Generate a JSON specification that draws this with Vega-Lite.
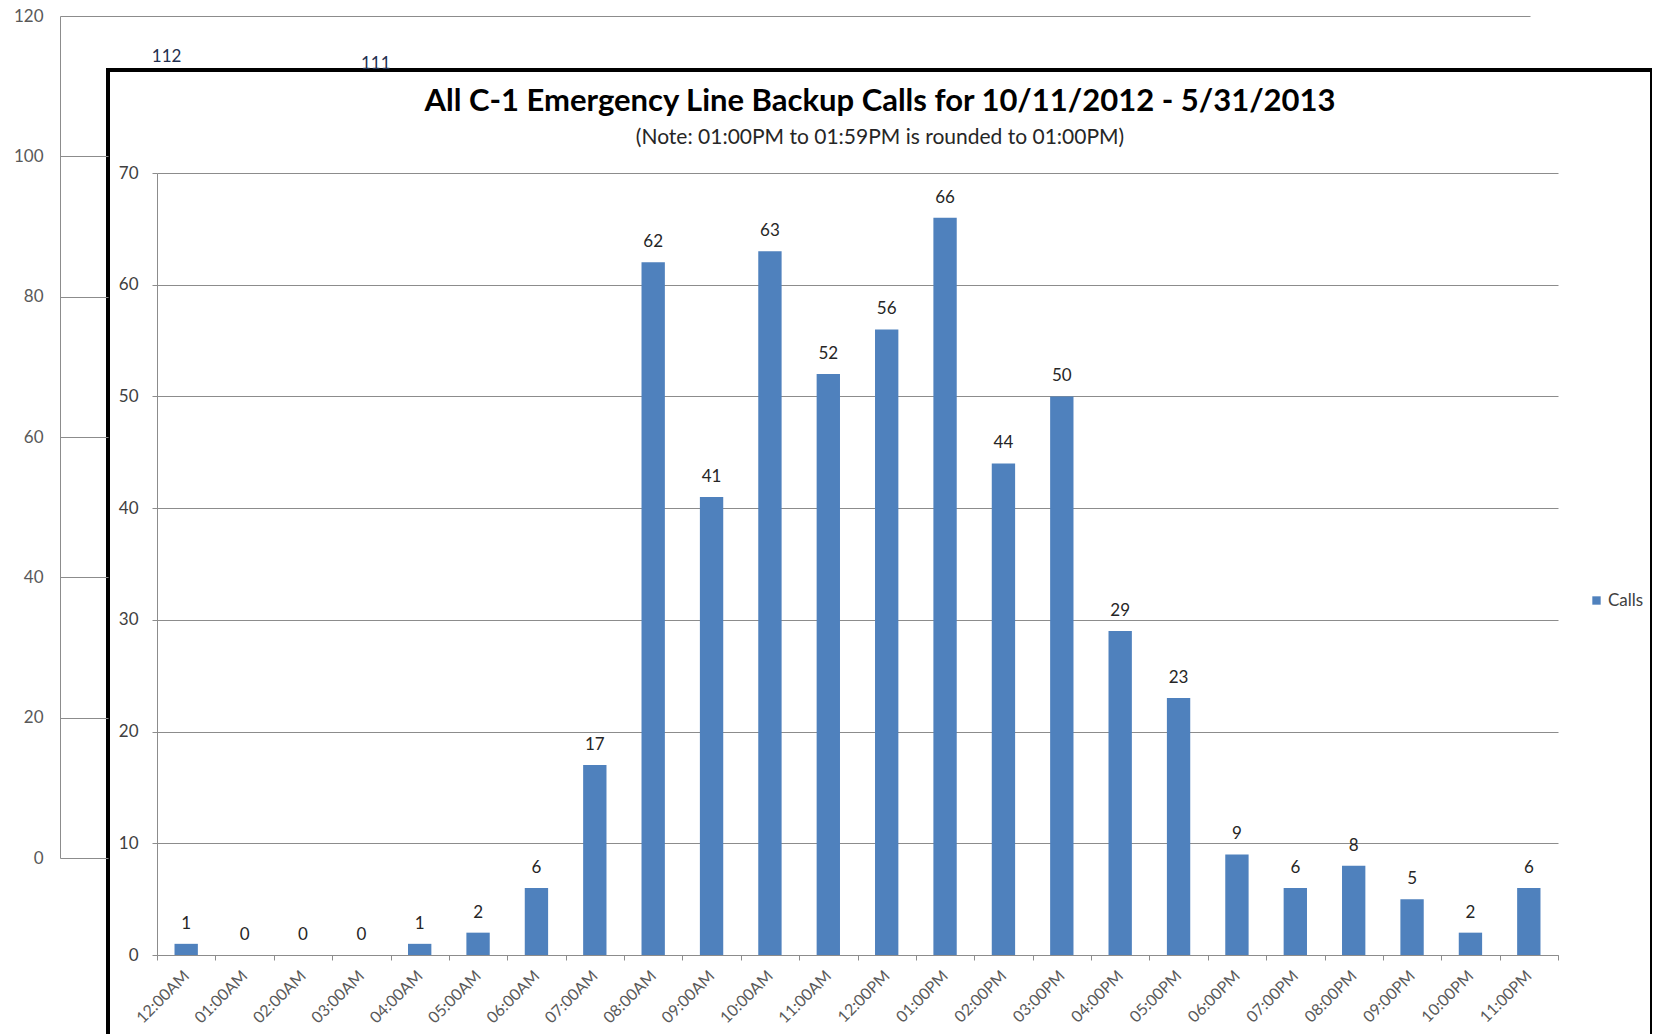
{
  "$schema": "https://vega.github.io/schema/vega-lite/v6.json",
  "autosize": "none",
  "width": 1544,
  "height": 967,
  "padding": {"left": 108, "top": 70, "right": 0, "bottom": 0},
  "background": "white",
  "config": {
    "view": {"fill": "white", "stroke": "black", "strokeWidth": 4},
    "font": "Lato"
  },
  "title": {
    "text": "All C-1 Emergency Line Backup Calls for 10/11/2012 - 5/31/2013",
    "subtitle": "(Note: 01:00PM to 01:59PM is rounded to 01:00PM)",
    "anchor": "middle",
    "frame": "group",
    "font": "Lato",
    "fontSize": 31,
    "fontWeight": "bold",
    "color": "#000000",
    "subtitleFont": "Lato",
    "subtitleFontSize": 21,
    "subtitleColor": "#262626",
    "subtitlePadding": 9,
    "offset": -142
  },
  "datasets": {
    "calls": [
      {"hour": "12:00AM", "calls": 1, "series": "Calls"},
      {"hour": "01:00AM", "calls": 0, "series": "Calls"},
      {"hour": "02:00AM", "calls": 0, "series": "Calls"},
      {"hour": "03:00AM", "calls": 0, "series": "Calls"},
      {"hour": "04:00AM", "calls": 1, "series": "Calls"},
      {"hour": "05:00AM", "calls": 2, "series": "Calls"},
      {"hour": "06:00AM", "calls": 6, "series": "Calls"},
      {"hour": "07:00AM", "calls": 17, "series": "Calls"},
      {"hour": "08:00AM", "calls": 62, "series": "Calls"},
      {"hour": "09:00AM", "calls": 41, "series": "Calls"},
      {"hour": "10:00AM", "calls": 63, "series": "Calls"},
      {"hour": "11:00AM", "calls": 52, "series": "Calls"},
      {"hour": "12:00PM", "calls": 56, "series": "Calls"},
      {"hour": "01:00PM", "calls": 66, "series": "Calls"},
      {"hour": "02:00PM", "calls": 44, "series": "Calls"},
      {"hour": "03:00PM", "calls": 50, "series": "Calls"},
      {"hour": "04:00PM", "calls": 29, "series": "Calls"},
      {"hour": "05:00PM", "calls": 23, "series": "Calls"},
      {"hour": "06:00PM", "calls": 9, "series": "Calls"},
      {"hour": "07:00PM", "calls": 6, "series": "Calls"},
      {"hour": "08:00PM", "calls": 8, "series": "Calls"},
      {"hour": "09:00PM", "calls": 5, "series": "Calls"},
      {"hour": "10:00PM", "calls": 2, "series": "Calls"},
      {"hour": "11:00PM", "calls": 6, "series": "Calls"}
    ],
    "behind": [
      {"group": "Sun", "total": 112},
      {"group": "Mon", "total": 111}
    ]
  },
  "layer": [
    {
      "data": {"name": "behind"},
      "mark": {"type": "text", "baseline": "middle", "dy": -15, "fontSize": 17, "font": "Lato", "color": "#1f2f4f"},
      "encoding": {
        "x": {
          "field": "group", "type": "nominal", "sort": null,
          "scale": {"domain": ["Sun", "Mon", "Tue", "Wed", "Thu", "Fri", "Sat"], "range": [-46, 1418], "paddingInner": 0, "paddingOuter": 0},
          "axis": null
        },
        "y": {
          "field": "total", "type": "quantitative",
          "scale": {"domain": [0, 120], "range": [788, -54], "nice": false, "zero": true},
          "axis": {
            "orient": "left", "offset": 48, "title": null,
            "values": [0, 20, 40, 60, 80, 100, 120],
            "grid": false,
            "tickSize": {"condition": {"test": "datum.value === 120", "value": -1470}, "value": -48},
            "labelPadding": {"condition": {"test": "datum.value === 120", "value": 1487}, "value": 65},
            "tickColor": "#8c8c8c", "domainColor": "#8c8c8c",
            "labelFontSize": 17, "labelFont": "Lato", "labelColor": "#595959"
          }
        },
        "text": {"field": "total", "type": "quantitative"}
      }
    },
    {
      "data": {"name": "calls"},
      "encoding": {
        "x": {
          "field": "hour", "type": "nominal", "sort": null,
          "scale": {"range": [49, 1450], "paddingInner": 0, "paddingOuter": 0},
          "axis": {
            "orient": "bottom", "offset": -82, "title": null,
            "labelAngle": -45, "labelAlign": "right", "labelBaseline": "middle",
            "tickBand": "extent", "tickSize": 5, "labelPadding": 13,
            "labelFontSize": 16, "labelFont": "Lato", "labelColor": "#595959",
            "tickColor": "#8c8c8c", "domainColor": "#8c8c8c", "grid": false
          }
        },
        "y": {
          "field": "calls", "type": "quantitative",
          "scale": {"domain": [0, 70], "range": [885, 103], "nice": false, "zero": true},
          "axis": {
            "orient": "left", "offset": -49, "title": null,
            "values": [0, 10, 20, 30, 40, 50, 60, 70],
            "grid": true, "gridColor": "#8c8c8c", "gridWidth": 1,
            "tickSize": 5, "labelPadding": 14,
            "labelFontSize": 17, "labelFont": "Lato", "labelColor": "#404040",
            "tickColor": "#8c8c8c", "domainColor": "#8c8c8c"
          }
        }
      },
      "layer": [
        {
          "mark": {"type": "bar", "width": {"band": 0.4}},
          "encoding": {
            "color": {
              "field": "series", "type": "nominal",
              "scale": {"range": ["#4f81bd"]},
              "legend": {
                "orient": "none", "legendX": 1480, "legendY": 522, "title": null,
                "symbolType": "square", "symbolSize": 70, "symbolStrokeWidth": 0,
                "labelFontSize": 17, "labelFont": "Lato", "labelColor": "#404040", "padding": 0, "labelOffset": 3
              }
            }
          }
        },
        {
          "mark": {"type": "text", "baseline": "middle", "dy": -20, "fontSize": 17, "font": "Lato", "color": "#262626"},
          "encoding": {
            "text": {"field": "calls", "type": "quantitative"}
          }
        }
      ]
    }
  ],
  "resolve": {"scale": {"x": "independent", "y": "independent"}}
}
